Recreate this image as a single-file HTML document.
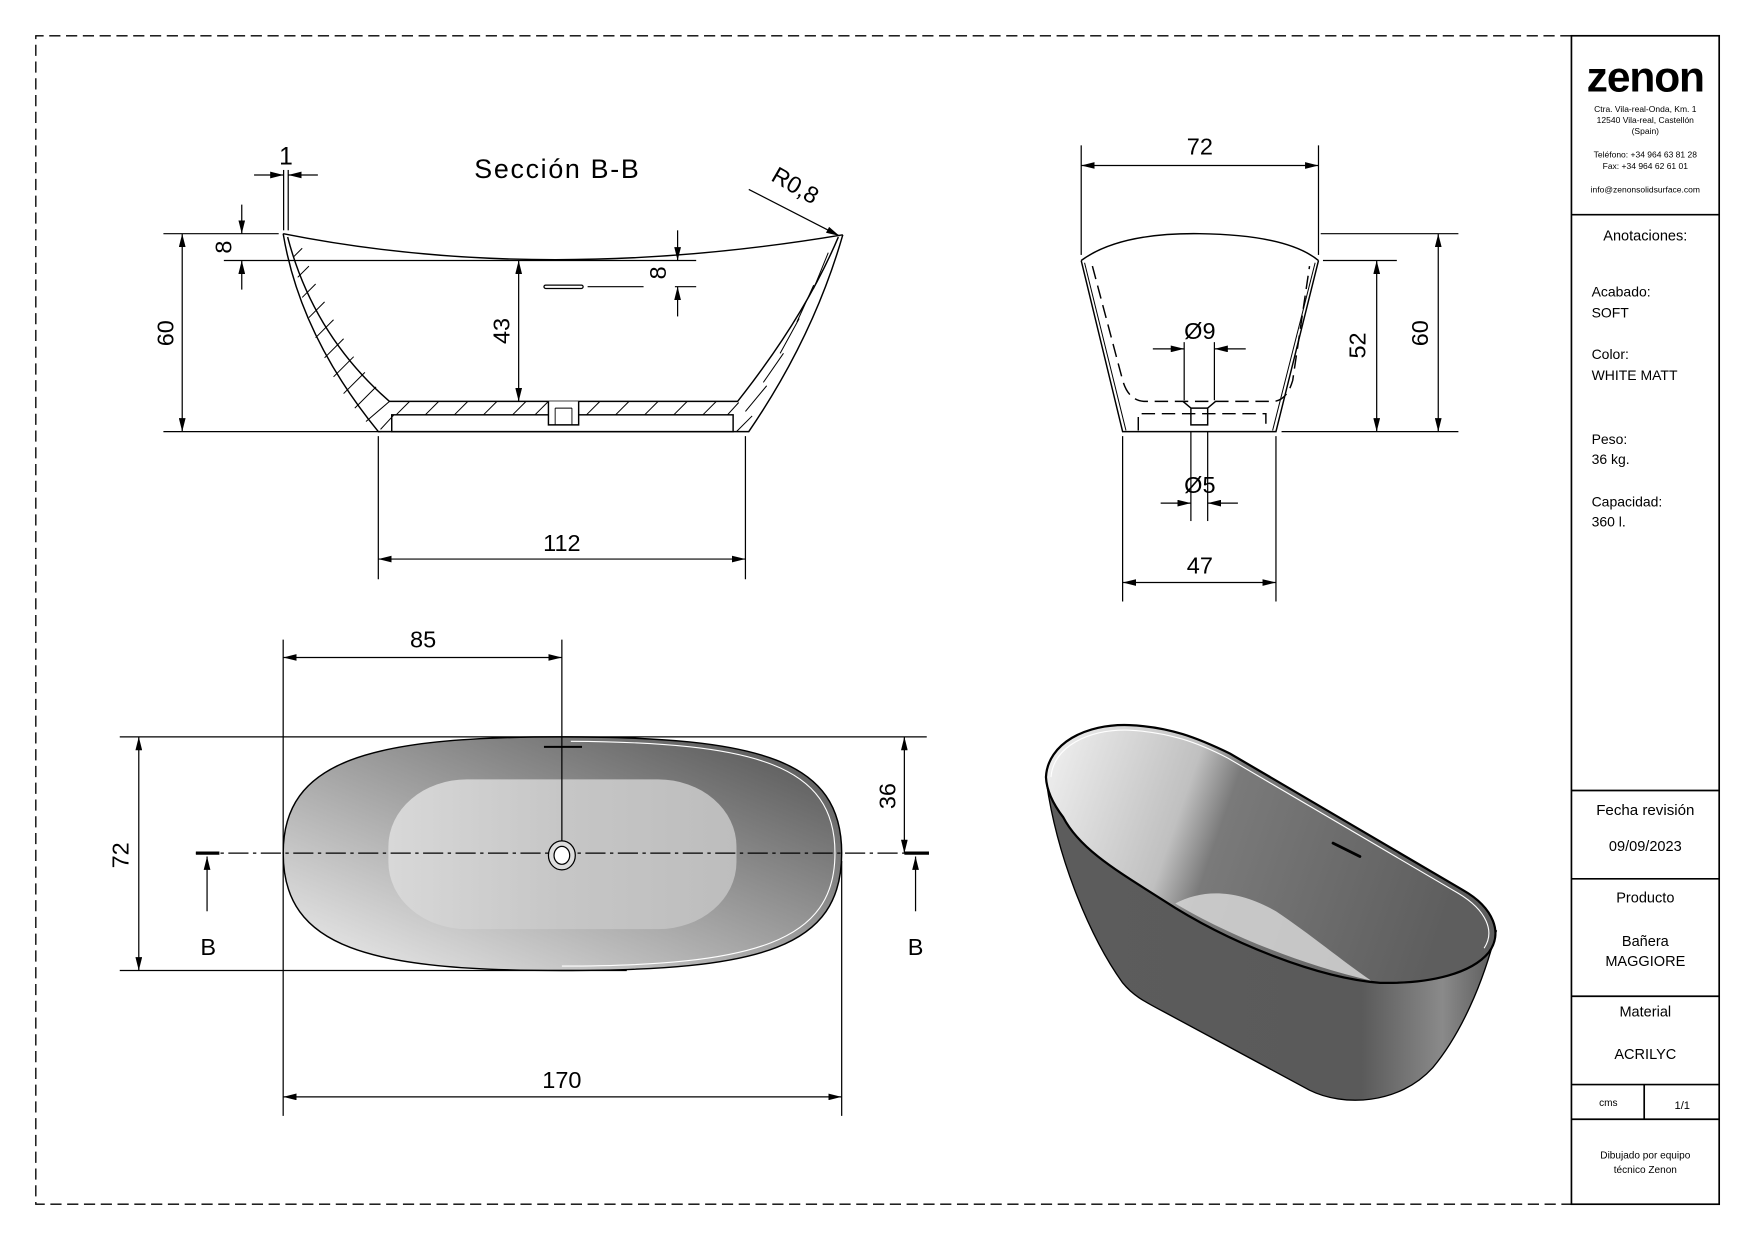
<!DOCTYPE html>
<html><head><meta charset="utf-8"><style>
html,body{margin:0;padding:0;background:#fff;}
svg{display:block;}
text{font-family:"Liberation Sans",sans-serif;fill:#000;}
</style></head><body>
<svg width="1755" height="1240" viewBox="0 0 1568 1109" preserveAspectRatio="none" xmlns="http://www.w3.org/2000/svg">
<defs>
<marker id="a" viewBox="0 0 12 6" refX="12" refY="3" markerWidth="12" markerHeight="6" markerUnits="userSpaceOnUse" orient="auto-start-reverse"><path d="M0,0 L12,3 L0,6 z" fill="#000"/></marker>
<linearGradient id="ring" x1="0" y1="1" x2="1" y2="0"><stop offset="0" stop-color="#f0f0f0"/><stop offset="0.45" stop-color="#a8a8a8"/><stop offset="1" stop-color="#505050"/></linearGradient>
<linearGradient id="basin" x1="0" y1="0" x2="1" y2="0"><stop offset="0" stop-color="#d8d8d8"/><stop offset="0.5" stop-color="#c6c6c6"/><stop offset="1" stop-color="#bdbdbd"/></linearGradient>
<linearGradient id="inner3d" x1="0" y1="0" x2="1" y2="0.2"><stop offset="0" stop-color="#f2f2f2"/><stop offset="0.35" stop-color="#c0c0c0"/><stop offset="0.45" stop-color="#7a7a7a"/><stop offset="1" stop-color="#5e5e5e"/></linearGradient>
<linearGradient id="body3d" x1="0" y1="0" x2="1" y2="0"><stop offset="0" stop-color="#5c5c5c"/><stop offset="0.7" stop-color="#5a5a5a"/><stop offset="0.88" stop-color="#8a8a8a"/><stop offset="1" stop-color="#5a5a5a"/></linearGradient>
</defs>

<!-- frame -->
<path d="M1404,32 L32,32 L32,1077 L1404,1077" fill="none" stroke="#000" stroke-width="1.2" stroke-dasharray="10,5"/>
<rect x="1404" y="32" width="132" height="1045" fill="none" stroke="#000" stroke-width="1.5"/>
<g stroke="#000" stroke-width="1.5">
<line x1="1404" y1="192" x2="1536" y2="192"/>
<line x1="1404" y1="707" x2="1536" y2="707"/>
<line x1="1404" y1="786" x2="1536" y2="786"/>
<line x1="1404" y1="891" x2="1536" y2="891"/>
<line x1="1404" y1="970" x2="1536" y2="970"/>
<line x1="1404" y1="1001" x2="1536" y2="1001"/>
<line x1="1469" y1="970" x2="1469" y2="1001"/>
</g>
<g text-anchor="middle">
<text x="1470" y="82" font-size="38" font-weight="bold" letter-spacing="-1">zenon</text>
<text x="1470" y="100" font-size="7.6">Ctra. Vila-real-Onda, Km. 1</text>
<text x="1470" y="110" font-size="7.6">12540 Vila-real, Castellón</text>
<text x="1470" y="120" font-size="7.6">(Spain)</text>
<text x="1470" y="141" font-size="7.6">Teléfono: +34 964 63 81 28</text>
<text x="1470" y="151" font-size="7.6">Fax: +34 964 62 61 01</text>
<text x="1470" y="172" font-size="7.6">info@zenonsolidsurface.com</text>
<text x="1470" y="215" font-size="13">Anotaciones:</text>
<text x="1470" y="729" font-size="13.5">Fecha revisión</text>
<text x="1470" y="761" font-size="13">09/09/2023</text>
<text x="1470" y="807" font-size="13">Producto</text>
<text x="1470" y="846" font-size="13">Bañera</text>
<text x="1470" y="864" font-size="13">MAGGIORE</text>
<text x="1470" y="909" font-size="13">Material</text>
<text x="1470" y="947" font-size="13">ACRILYC</text>
<text x="1437" y="989" font-size="9">cms</text>
<text x="1503" y="992" font-size="10">1/1</text>
<text x="1470" y="1036" font-size="9">Dibujado por equipo</text>
<text x="1470" y="1049" font-size="9">técnico Zenon</text>
</g>
<g font-size="12.5">
<text x="1422" y="265">Acabado:</text>
<text x="1422" y="284">SOFT</text>
<text x="1422" y="321">Color:</text>
<text x="1422" y="340">WHITE MATT</text>
<text x="1422" y="397">Peso:</text>
<text x="1422" y="415">36 kg.</text>
<text x="1422" y="453">Capacidad:</text>
<text x="1422" y="471">360 l.</text>
</g>

<!-- SECTION B-B -->
<g fill="none" stroke="#000" stroke-width="1.3">
<path d="M253,209 Q484,255 753,210"/>
<path d="M253,209 Q268,300 338,386 L669,386 Q727,301 753,210"/>
<path d="M257,212 Q280,300 348,359 L659,359 Q719,283 749,212"/>
<rect x="350" y="371" width="305" height="15" fill="#fff"/>
<path d="M490,359 L490,380 L517,380 L517,359" fill="#fff"/>
<path d="M496,365 L511,365 M496,365 L496,380 M511,365 L511,380" stroke-width="0.8"/>
</g>
<g stroke="#000" stroke-width="0.9">
<line x1="262" y1="230" x2="270" y2="222"/><line x1="266" y1="248" x2="276" y2="238"/><line x1="270" y1="266" x2="282" y2="254"/>
<line x1="276" y1="284" x2="290" y2="270"/><line x1="282" y1="302" x2="298" y2="286"/><line x1="290" y1="320" x2="307" y2="303"/>
<line x1="298" y1="337" x2="316" y2="319"/><line x1="307" y1="352" x2="326" y2="333"/><line x1="317" y1="365" x2="336" y2="346"/>
<line x1="327" y1="377" x2="348" y2="359"/><line x1="340" y1="384" x2="352" y2="371"/>
<line x1="354" y1="371" x2="366" y2="359"/><line x1="380" y1="371" x2="392" y2="359"/><line x1="406" y1="371" x2="418" y2="359"/>
<line x1="432" y1="371" x2="444" y2="359"/><line x1="458" y1="371" x2="470" y2="359"/><line x1="478" y1="371" x2="490" y2="359"/>
<line x1="524" y1="371" x2="536" y2="359"/><line x1="550" y1="371" x2="562" y2="359"/><line x1="576" y1="371" x2="588" y2="359"/>
<line x1="602" y1="371" x2="614" y2="359"/><line x1="628" y1="371" x2="640" y2="359"/><line x1="650" y1="371" x2="660" y2="360"/>
<line x1="658" y1="386" x2="672" y2="372"/><line x1="666" y1="368" x2="685" y2="345"/><line x1="682" y1="342" x2="700" y2="316"/>
<line x1="697" y1="316" x2="714" y2="285"/><line x1="712" y1="288" x2="727" y2="255"/><line x1="727" y1="258" x2="740" y2="226"/>
</g>
<g fill="none" stroke="#000" stroke-width="1.1">
<line x1="253.4" y1="152" x2="253.4" y2="206"/><line x1="257.5" y1="152" x2="257.5" y2="206"/>
<line x1="227" y1="156.5" x2="253.4" y2="156.5" marker-end="url(#a)"/><line x1="284" y1="156.5" x2="257.5" y2="156.5" marker-end="url(#a)"/>
<line x1="146" y1="209" x2="249" y2="209"/><line x1="146" y1="386" x2="340" y2="386"/>
<line x1="162.8" y1="209" x2="162.8" y2="386" marker-start="url(#a)" marker-end="url(#a)"/>
<line x1="200" y1="233" x2="622" y2="233"/>
<line x1="216" y1="183" x2="216" y2="209" marker-end="url(#a)"/><line x1="216" y1="259" x2="216" y2="233" marker-end="url(#a)"/>
<line x1="463.4" y1="233" x2="463.4" y2="359" marker-start="url(#a)" marker-end="url(#a)"/>
<line x1="605.4" y1="206" x2="605.4" y2="233" marker-end="url(#a)"/><line x1="605.4" y1="283" x2="605.4" y2="256.4" marker-end="url(#a)"/>
<line x1="603" y1="256.4" x2="622" y2="256.4"/>
<rect x="486" y="255" width="35" height="3" rx="1.5"/>
<line x1="525" y1="256.4" x2="575" y2="256.4"/>
<line x1="669" y1="169.4" x2="750" y2="211" marker-end="url(#a)"/>
<line x1="338" y1="390" x2="338" y2="518"/><line x1="666" y1="390" x2="666" y2="518"/>
<line x1="338" y1="500" x2="666" y2="500" marker-start="url(#a)" marker-end="url(#a)"/>
</g>
<text x="255.5" y="147" font-size="22" text-anchor="middle">1</text>
<text x="498" y="159" font-size="24" text-anchor="middle" letter-spacing="1.5">Sección B-B</text>
<text x="0" y="0" font-size="21" text-anchor="middle" transform="translate(707,172) rotate(30)">R0,8</text>
<text x="0" y="0" font-size="21" text-anchor="middle" transform="translate(155,298) rotate(-90)">60</text>
<text x="0" y="0" font-size="21" text-anchor="middle" transform="translate(207,221) rotate(-90)">8</text>
<text x="0" y="0" font-size="21" text-anchor="middle" transform="translate(455,296) rotate(-90)">43</text>
<text x="0" y="0" font-size="21" text-anchor="middle" transform="translate(595,244) rotate(-90)">8</text>
<text x="502" y="493" font-size="21" text-anchor="middle">112</text>

<!-- SIDE VIEW -->
<g fill="none" stroke="#000" stroke-width="1.3">
<path d="M966,233 Q1000,208 1072,209 Q1150,210 1178,233"/>
<path d="M966,233 L1003,386 L1140,386 L1178,233"/>
<path d="M969,235 L1006,385 M1175,235 L1137,385" stroke-width="0.9"/>
<path d="M976,238 L1003,340 Q1008,358 1022,359 L1138,359 Q1150,358 1155,340 L1170,238" stroke-dasharray="12,6"/>
<path d="M1017,385 L1017,370 L1131,370 L1131,385" stroke-dasharray="12,6"/>
<path d="M1057,359 L1064,365 L1064,380 L1079,380 L1079,365 L1086,359"/>
<line x1="1064" y1="365" x2="1079" y2="365"/>
</g>
<g fill="none" stroke="#000" stroke-width="1.1">
<line x1="966" y1="130" x2="966" y2="228"/><line x1="1178" y1="130" x2="1178" y2="228"/>
<line x1="966" y1="148" x2="1178" y2="148" marker-start="url(#a)" marker-end="url(#a)"/>
<line x1="1180" y1="209" x2="1303" y2="209"/><line x1="1145" y1="386" x2="1303" y2="386"/>
<line x1="1285" y1="209" x2="1285" y2="386" marker-start="url(#a)" marker-end="url(#a)"/>
<line x1="1182" y1="233" x2="1248" y2="233"/>
<line x1="1230" y1="233" x2="1230" y2="386" marker-start="url(#a)" marker-end="url(#a)"/>
<line x1="1058" y1="306" x2="1058" y2="358"/><line x1="1085" y1="306" x2="1085" y2="358"/>
<line x1="1030" y1="312" x2="1058" y2="312" marker-end="url(#a)"/><line x1="1113" y1="312" x2="1085" y2="312" marker-end="url(#a)"/>
<line x1="1064" y1="386" x2="1064" y2="466"/><line x1="1079" y1="386" x2="1079" y2="466"/>
<line x1="1037" y1="450" x2="1064" y2="450" marker-end="url(#a)"/><line x1="1106" y1="450" x2="1079" y2="450" marker-end="url(#a)"/>
<line x1="1003" y1="390" x2="1003" y2="538"/><line x1="1140" y1="390" x2="1140" y2="538"/>
<line x1="1003" y1="521" x2="1140" y2="521" marker-start="url(#a)" marker-end="url(#a)"/>
</g>
<text x="1072" y="138" font-size="21" text-anchor="middle">72</text>
<text x="1072" y="303" font-size="21" text-anchor="middle">Ø9</text>
<text x="1072" y="441" font-size="21" text-anchor="middle">Ø5</text>
<text x="1072" y="513" font-size="21" text-anchor="middle">47</text>
<text x="0" y="0" font-size="21" text-anchor="middle" transform="translate(1220,309) rotate(-90)">52</text>
<text x="0" y="0" font-size="21" text-anchor="middle" transform="translate(1276,298) rotate(-90)">60</text>

<!-- TOP VIEW -->
<path d="M502,659 C680,659 752,680 752,763 C752,848 680,868 502,868 C330,868 253,848 253,763 C253,680 330,659 502,659 Z" fill="url(#ring)" stroke="#000" stroke-width="1.3"/>
<path d="M510,663 C675,664 746,684 746,763 C746,842 675,864 502,864" fill="none" stroke="#fff" stroke-width="1"/>
<rect x="347" y="697" width="311" height="134" rx="70" ry="60" fill="url(#basin)"/>
<g fill="none" stroke="#000" stroke-width="1.1">
<line x1="175" y1="763" x2="820" y2="763" stroke-dasharray="18,4,3,4"/>
<line x1="502" y1="572" x2="502" y2="753"/>
<line x1="486" y1="668" x2="520" y2="668" stroke-width="1.8"/>
<ellipse cx="502" cy="765" rx="12" ry="13" fill="#ddd"/>
<ellipse cx="502" cy="765" rx="7" ry="8" fill="#fff"/>
<line x1="253" y1="572" x2="253" y2="998"/>
<line x1="752" y1="770" x2="752" y2="998"/>
<line x1="253" y1="588" x2="502" y2="588" marker-start="url(#a)" marker-end="url(#a)"/>
<line x1="107" y1="659" x2="828" y2="659"/><line x1="107" y1="868" x2="560" y2="868"/>
<line x1="124" y1="659" x2="124" y2="868" marker-start="url(#a)" marker-end="url(#a)"/>
<line x1="808" y1="659" x2="808" y2="763" marker-start="url(#a)" marker-end="url(#a)"/>
<line x1="253" y1="981" x2="752" y2="981" marker-start="url(#a)" marker-end="url(#a)"/>
<line x1="175" y1="763" x2="196" y2="763" stroke-width="3"/>
<line x1="808" y1="763" x2="830" y2="763" stroke-width="3"/>
<line x1="185" y1="815" x2="185" y2="766" marker-end="url(#a)"/>
<line x1="818" y1="815" x2="818" y2="766" marker-end="url(#a)"/>
</g>
<text x="378" y="579" font-size="21" text-anchor="middle">85</text>
<text x="502" y="973" font-size="21" text-anchor="middle">170</text>
<text x="186" y="854" font-size="21" text-anchor="middle">B</text>
<text x="818" y="854" font-size="21" text-anchor="middle">B</text>
<text x="0" y="0" font-size="21" text-anchor="middle" transform="translate(115,765) rotate(-90)">72</text>
<text x="0" y="0" font-size="21" text-anchor="middle" transform="translate(800,712) rotate(-90)">36</text>

<!-- 3D VIEW -->
<path d="M935,700 C945,770 975,840 1003,879 C1012,890 1021,895 1040,905 L1170,975 C1200,990 1250,988 1280,955 C1305,925 1325,880 1337,832 L1320,860 C1300,876 1260,880 1233,879 C1150,862 1000,780 950,731 Z" fill="url(#body3d)" stroke="#000" stroke-width="1.2"/>
<path d="M934.5,695 C936,665 970,647 1009,648.5 C1045,650 1070,660 1099,674 L1307,796 C1335,812 1343,835 1330,852 C1315,870 1280,880 1233,879 C1180,875 1100,845 1039,805 C1000,780 965,760 950,731 C940,718 935,706 934.5,695 Z" fill="url(#inner3d)" stroke="#000" stroke-width="2"/>
<path d="M939,695 C941,668 972,652 1009,653 C1045,655 1070,664 1097,678 L1303,799 C1328,814 1336,833 1326,848" fill="none" stroke="#fff" stroke-width="1"/>
<path d="M1050,808 C1075,795 1105,795 1140,815 C1170,835 1200,860 1225,877 C1160,862 1095,835 1050,808 Z" fill="#d6d6d6" opacity="0.85"/>
<line x1="1191" y1="754" x2="1215" y2="766" stroke="#000" stroke-width="2.5" stroke-linecap="round"/>
</svg>
</body></html>
